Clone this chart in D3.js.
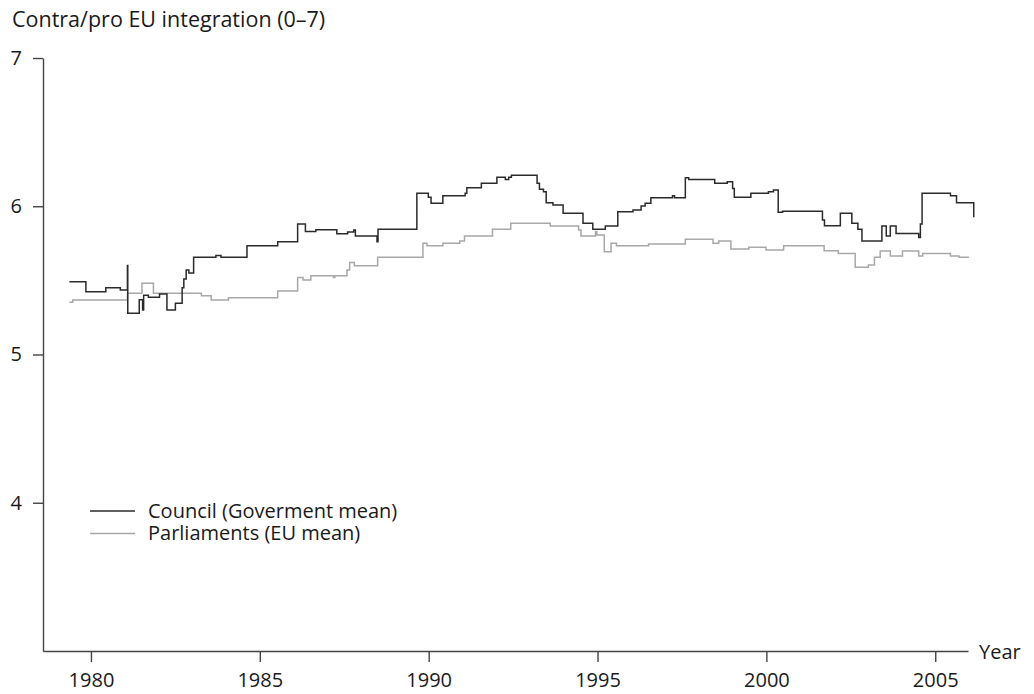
<!DOCTYPE html>
<meta charset="utf-8">

<head>
	<title>Contra/pro EU integration</title>
	<script src="https://cdnjs.cloudflare.com/ajax/libs/d3/7.8.5/d3.min.js" charset="utf-8"></script>
</head>

<style type="text/css">

	body {
		margin: 0;
		background: #fff;
		font-family: "Open Sans", "Noto Sans", sans-serif;
	}

	text {
		font-size: 20px;
		fill: #1a1a1a;
	}

	.title {
		font-size: 21.5px;
	}

	.axis path,
	.axis line {
		stroke: #444;
		stroke-width: 1.4px;
	}

	.axis text {
		font-size: 20px;
		fill: #1a1a1a;
	}

	.council {
		fill: none;
		stroke: #2b2b2b;
		stroke-width: 1.5px;
	}

	.parl {
		fill: none;
		stroke: #a8a8a8;
		stroke-width: 1.5px;
	}

</style>

<body>

	<div id=divContainer></div>

	<script>

		// step start dates (decimal years) and levels
		var councilYears = [1979.36, 1979.85, 1980.44, 1980.87, 1981.08, 1981.09, 1981.43, 1981.53, 1981.56, 1981.70,
			1982.03, 1982.25, 1982.50, 1982.70, 1982.75, 1982.82, 1982.90, 1983.04, 1983.70, 1983.85,
			1984.62, 1985.53, 1986.12, 1986.35, 1986.66, 1987.28, 1987.60, 1987.78, 1987.83, 1988.47,
			1988.50, 1989.65, 1989.99, 1990.07, 1990.42, 1991.08, 1991.13, 1991.56, 1992.02, 1992.27,
			1992.37, 1992.45, 1993.21, 1993.28, 1993.40, 1993.48, 1993.68, 1993.98, 1994.57, 1994.86,
			1995.23, 1995.60, 1996.05, 1996.29, 1996.41, 1996.58, 1997.22, 1997.28, 1997.60, 1997.70,
			1998.47, 1998.84, 1999.00, 1999.05, 1999.54, 2000.06, 2000.21, 2000.35, 2000.48, 2001.66,
			2001.72, 2002.19, 2002.53, 2002.71, 2002.83, 2003.42, 2003.55, 2003.67, 2003.84, 2004.51,
			2004.56, 2004.61, 2005.45, 2005.63, 2006.14];

		var councilValues = [5.49, 5.424, 5.45, 5.435, 5.60, 5.278, 5.37, 5.30, 5.40, 5.386,
			5.408, 5.30, 5.345, 5.45, 5.51, 5.57, 5.55, 5.656, 5.667, 5.656,
			5.734, 5.761, 5.88, 5.83, 5.842, 5.815, 5.826, 5.84, 5.80, 5.76,
			5.845, 6.087, 6.06, 6.02, 6.071, 6.087, 6.125, 6.155, 6.195, 6.18,
			6.195, 6.209, 6.155, 6.114, 6.098, 6.024, 6.008, 5.952, 5.885, 5.845,
			5.867, 5.963, 5.975, 6.002, 6.02, 6.058, 6.07, 6.058, 6.193, 6.18,
			6.155, 6.166, 6.12, 6.06, 6.087, 6.098, 6.11, 5.96, 5.966, 5.907,
			5.869, 5.952, 5.885, 5.845, 5.766, 5.867, 5.80, 5.867, 5.817, 5.79,
			5.88, 6.087, 6.071, 6.024, 5.925];

		var parlYears = [1979.36, 1979.46, 1981.08, 1981.51, 1981.85, 1983.27, 1983.56, 1984.07, 1985.53, 1986.12,
			1986.28, 1986.51, 1987.18, 1987.22, 1987.58, 1987.66, 1987.80, 1988.49, 1989.83, 1989.95,
			1990.42, 1990.92, 1991.06, 1991.89, 1992.43, 1993.60, 1994.44, 1994.51, 1994.94, 1994.98,
			1995.20, 1995.40, 1995.56, 1996.51, 1997.60, 1998.42, 1998.59, 1998.95, 1999.48, 1999.99,
			2000.51, 2001.71, 2002.13, 2002.63, 2003.02, 2003.20, 2003.37, 2003.67, 2004.03, 2004.51,
			2004.63, 2005.45, 2005.70, 2006.00];

		var parlValues = [5.352, 5.368, 5.413, 5.48, 5.413, 5.397, 5.368, 5.383, 5.428, 5.52,
			5.502, 5.532, 5.52, 5.532, 5.57, 5.62, 5.599, 5.656, 5.75, 5.734,
			5.75, 5.766, 5.80, 5.845, 5.885, 5.867, 5.84, 5.80, 5.83, 5.806,
			5.693, 5.75, 5.734, 5.745, 5.777, 5.75, 5.766, 5.712, 5.723, 5.705,
			5.734, 5.70, 5.682, 5.588, 5.604, 5.656, 5.698, 5.664, 5.698, 5.664,
			5.682, 5.664, 5.656, 5.656];

		var xTicks = [1980, 1985, 1990, 1995, 2000, 2005];
		var yTicks = [4, 5, 6, 7];

		var seriesNames = ["Council (Goverment mean)", "Parliaments (EU mean)"];

		var totalWidth = 1034,
				totalHeight = 694;

		var margin = {top: 58, right: 66, bottom: 43, left: 43};

		var width = totalWidth - margin.left - margin.right,
				height = totalHeight - margin.top - margin.bottom;

		var xScale = d3.scaleLinear()
			.domain([1978.58, 2005.97])
			.range([0, width]);

		var yScale = d3.scaleLinear()
			.domain([3, 7])
			.range([height, 0]);

		var svg = d3.select("#divContainer").append("svg")
			.attr("width", totalWidth)
			.attr("height", totalHeight);

		var mySvg = svg.append("g")
			.attr("transform", "translate(" + margin.left + "," + margin.top + ")");

		// zip arrays into point lists
		var council = councilYears.map(function(d, i) { return {year: d, value: councilValues[i]}; });
		var parl = parlYears.map(function(d, i) { return {year: d, value: parlValues[i]}; });

		var line = d3.line()
			.curve(d3.curveStepAfter)
			.x(function(d) { return xScale(d.year); })
			.y(function(d) { return yScale(d.value); });

		mySvg.append("path")
			.datum(parl)
			.attr("class", "parl")
			.attr("d", line);

		mySvg.append("path")
			.datum(council)
			.attr("class", "council")
			.attr("d", line);

		// axes
		mySvg.append("g")
			.attr("class", "x axis")
			.attr("transform", "translate(0," + height + ")")
			.call(d3.axisBottom(xScale)
				.tickValues(xTicks)
				.tickFormat(d3.format("d"))
				.tickSize(11)
				.tickSizeOuter(0)
				.tickPadding(11));

		mySvg.append("g")
			.attr("class", "y axis")
			.call(d3.axisLeft(yScale)
				.tickValues(yTicks)
				.tickFormat(d3.format("d"))
				.tickSize(10)
				.tickSizeOuter(0)
				.tickPadding(11));

		// let the css fonts win over the axis defaults
		mySvg.selectAll(".axis").attr("font-family", null).attr("font-size", null);

		// axis titles
		svg.append("text")
			.attr("class", "title")
			.attr("x", 12)
			.attr("y", 27)
			.text("Contra/pro EU integration (0\u20137)");

		svg.append("text")
			.attr("x", 979)
			.attr("y", 659)
			.text("Year");

		// legend
		var legend = mySvg.append("g")
			.attr("transform", "translate(" + (90 - margin.left) + "," + (511 - margin.top) + ")");

		var legendItems = legend.selectAll(".legendItem")
			.data(seriesNames)
		 .enter().append("g")
			.attr("class", "legendItem")
			.attr("transform", function(d, i) { return "translate(0," + (i * 22.5) + ")"; });

		legendItems.append("line")
			.attr("x1", 0)
			.attr("x2", 45)
			.attr("y1", 0)
			.attr("y2", 0)
			.attr("class", function(d, i) { return i === 0 ? "council" : "parl"; });

		legendItems.append("text")
			.attr("x", 58)
			.attr("y", 6.5)
			.text(function(d) { return d; });

	</script>

</body>
